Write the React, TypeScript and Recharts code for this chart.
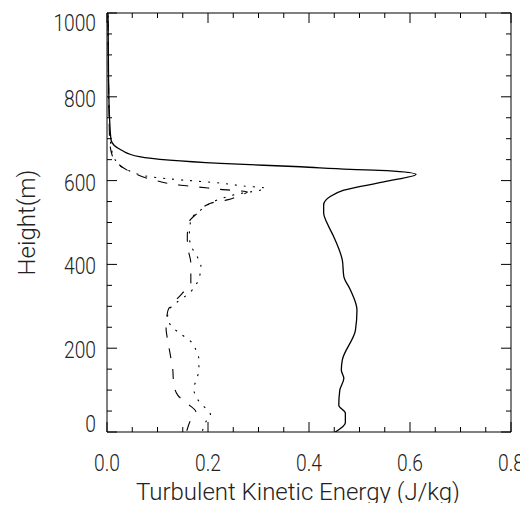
import { LineChart, Line, XAxis, YAxis, Label } from "recharts";

// heights (m) and TKE (J/kg)
const solidHeight = [0, 22, 45, 64, 100, 128, 148, 172, 243, 291, 339, 371, 410, 466, 498, 522, 542, 562, 577, 597, 615, 624, 627, 633, 641, 657, 673, 697, 750, 850, 1000];
const solidTke = [0.452, 0.472, 0.472, 0.459, 0.461, 0.469, 0.464, 0.466, 0.492, 0.495, 0.482, 0.469, 0.466, 0.449, 0.436, 0.429, 0.429, 0.442, 0.469, 0.548, 0.612, 0.554, 0.482, 0.383, 0.225, 0.064, 0.028, 0.008, 0.005, 0.003, 0.002];

const dashedHeight = [3, 29, 48, 68, 88, 116, 152, 180, 220, 247, 287, 331, 355, 403, 440, 466, 502, 522, 546, 554, 566, 573, 579, 585, 589, 601, 617, 641, 657, 700, 1000];
const dashedTke = [0.158, 0.166, 0.176, 0.159, 0.14, 0.132, 0.13, 0.126, 0.12, 0.117, 0.12, 0.149, 0.166, 0.166, 0.16, 0.159, 0.163, 0.179, 0.205, 0.238, 0.265, 0.278, 0.225, 0.179, 0.146, 0.094, 0.054, 0.021, 0.011, 0.005, 0.002];

const dottedHeight = [3, 25, 41, 52, 68, 84, 104, 128, 148, 172, 196, 216, 239, 255, 275, 291, 307, 335, 351, 375, 395, 420, 440, 466, 506, 530, 554, 566, 582, 587, 594, 601, 609, 625, 641, 681, 750, 1000];
const dottedTke = [0.189, 0.196, 0.205, 0.199, 0.186, 0.176, 0.172, 0.178, 0.182, 0.182, 0.176, 0.166, 0.14, 0.126, 0.12, 0.122, 0.136, 0.166, 0.176, 0.184, 0.186, 0.178, 0.168, 0.163, 0.166, 0.186, 0.219, 0.251, 0.314, 0.271, 0.225, 0.153, 0.087, 0.041, 0.021, 0.008, 0.004, 0.002];

const xTicks = [0, 0.05, 0.1, 0.15, 0.2, 0.25, 0.3, 0.35, 0.4, 0.45, 0.5, 0.55, 0.6, 0.65, 0.7, 0.75, 0.8];
const yTicks = [0, 50, 100, 150, 200, 250, 300, 350, 400, 450, 500, 550, 600, 650, 700, 750, 800, 850, 900, 950, 1000];

const zip = (hs: number[], vs: number[]) => hs.map((h, i) => ({ h, v: vs[i] }));
const solidData = zip(solidHeight, solidTke);
const dashedData = zip(dashedHeight, dashedTke);
const dottedData = zip(dottedHeight, dottedTke);

const FONT = "Roboto, 'DejaVu Sans', sans-serif";
const INK = "#222";
const MARGIN = 8;

const isMajorX = (v: number) => Math.abs(v * 5 - Math.round(v * 5)) < 1e-6;
const isMajorY = (v: number) => v % 200 === 0;

// narrow, tall digits like the original plotting font
function NarrowText({ x, y, anchor, children }: any) {
  return (
    <text
      transform={`translate(${x},${y}) scale(0.8,1)`}
      textAnchor={anchor}
      fontSize={24}
      fontWeight={300}
      fontFamily={FONT}
      fill={INK}
    >
      {children}
    </text>
  );
}

function BottomTick(props: any) {
  const { x, y, payload } = props;
  const axisY = y - MARGIN;
  const major = isMajorX(payload.value);
  return (
    <g>
      <line x1={x} x2={x} y1={axisY} y2={axisY - (major ? 10 : 5)} stroke="#000" />
      {major && (
        <NarrowText x={x} y={axisY + 38.5} anchor="middle">
          {payload.value.toFixed(1)}
        </NarrowText>
      )}
    </g>
  );
}

function TopTick(props: any) {
  const { x, y, payload } = props;
  const axisY = y + MARGIN;
  const major = isMajorX(payload.value);
  return <line x1={x} x2={x} y1={axisY} y2={axisY + (major ? 10 : 5)} stroke="#000" />;
}

function LeftTick(props: any) {
  const { x, y, payload } = props;
  const axisX = x + MARGIN;
  const major = isMajorY(payload.value);
  // end labels are pulled inside the frame, as in the original
  const shift = payload.value === 1000 ? 17.5 : payload.value === 0 ? 0 : 10;
  return (
    <g>
      <line x1={axisX} x2={axisX + (major ? 10 : 5)} y1={y} y2={y} stroke="#000" />
      {major && (
        <NarrowText x={axisX - 11} y={y + shift} anchor="end">
          {payload.value}
        </NarrowText>
      )}
    </g>
  );
}

function RightTick(props: any) {
  const { x, y, payload } = props;
  const axisX = x - MARGIN;
  const major = isMajorY(payload.value);
  return <line x1={axisX} x2={axisX - (major ? 10 : 5)} y1={y} y2={y} stroke="#000" />;
}

export default function App() {
  return (
    <div style={{ height: 495 }}>
      <LineChart width={520} height={500} margin={{ top: 4, right: 16, bottom: 0, left: 0 }}>
        <XAxis
          xAxisId="main"
          type="number"
          dataKey="v"
          domain={[0, 0.8]}
          ticks={xTicks}
          interval={0}
          allowDataOverflow
          height={76}
          tickSize={0}
          tickMargin={MARGIN}
          tickLine={false}
          tick={<BottomTick />}
          stroke="#000"
        >
          <Label
            content={(p: any) => (
              <text
                x={p.viewBox.x + p.viewBox.width / 2 - 11}
                y={p.viewBox.y + 68}
                textAnchor="middle"
                fontSize={24}
                fontWeight={300}
                fontFamily={FONT}
                fill={INK}
              >
                Turbulent Kinetic Energy (J/kg)
              </text>
            )}
          />
        </XAxis>
        <XAxis
          xAxisId="top"
          orientation="top"
          type="number"
          dataKey="v"
          domain={[0, 0.8]}
          ticks={xTicks}
          interval={0}
          allowDataOverflow
          height={1}
          tickSize={0}
          tickMargin={MARGIN}
          tickLine={false}
          tick={<TopTick />}
          stroke="#000"
        />
        <YAxis
          yAxisId="main"
          type="number"
          domain={[0, 1000]}
          ticks={yTicks}
          interval={0}
          allowDataOverflow
          width={99}
          tickSize={0}
          tickMargin={MARGIN}
          tickLine={false}
          tick={<LeftTick />}
          stroke="#000"
        >
          <Label
            content={(p: any) => {
              const cx = p.viewBox.x + 19;
              const cy = p.viewBox.y + p.viewBox.height / 2;
              return (
                <text
                  x={cx}
                  y={cy}
                  transform={`rotate(-90, ${cx}, ${cy})`}
                  textAnchor="middle"
                  dominantBaseline="central"
                  fontSize={24}
                  fontWeight={300}
                  fontFamily={FONT}
                  fill={INK}
                >
                  Height(m)
                </text>
              );
            }}
          />
        </YAxis>
        <YAxis
          yAxisId="right"
          orientation="right"
          type="number"
          domain={[0, 1000]}
          ticks={yTicks}
          interval={0}
          allowDataOverflow
          width={1}
          tickSize={0}
          tickMargin={MARGIN}
          tickLine={false}
          tick={<RightTick />}
          stroke="#000"
        />
        <Line
          xAxisId="main"
          yAxisId="main"
          data={solidData}
          dataKey="h"
          type="monotoneY"
          stroke="#000"
          strokeWidth={1.3}
          dot={false}
          isAnimationActive={false}
        />
        <Line
          xAxisId="main"
          yAxisId="main"
          data={dashedData}
          dataKey="h"
          type="monotoneY"
          stroke="#000"
          strokeWidth={1.1}
          strokeDasharray="10 11"
          dot={false}
          isAnimationActive={false}
        />
        <Line
          xAxisId="main"
          yAxisId="main"
          data={dottedData}
          dataKey="h"
          type="monotoneY"
          stroke="#000"
          strokeWidth={1.1}
          strokeDasharray="2 7"
          dot={false}
          isAnimationActive={false}
        />
      </LineChart>
    </div>
  );
}
